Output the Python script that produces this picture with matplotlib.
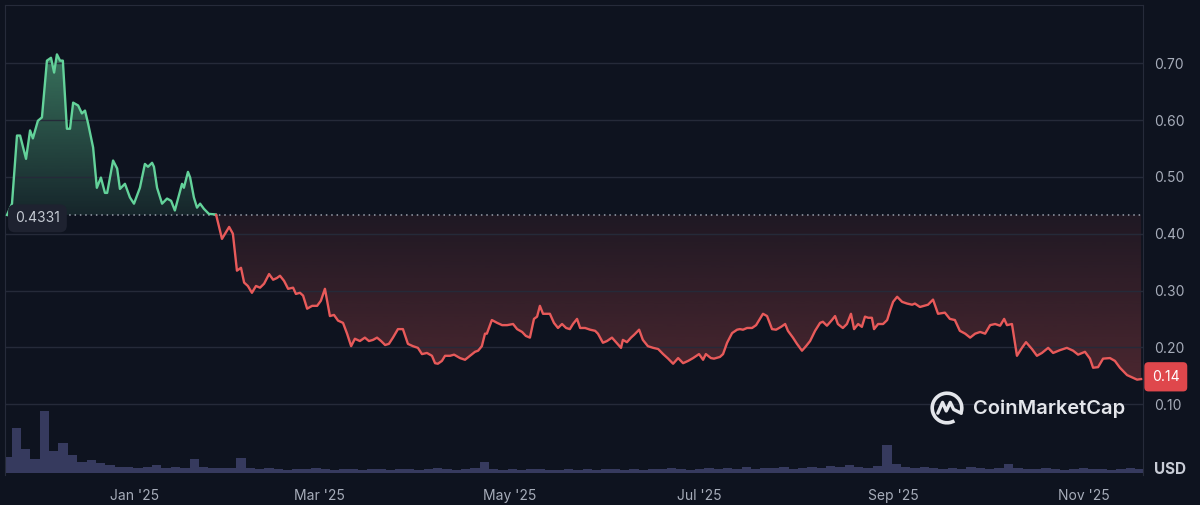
import numpy as np
import pandas as pd
import matplotlib
matplotlib.use("Agg")
import matplotlib.pyplot as plt
import matplotlib.dates as mdates
import matplotlib.transforms as mtrans
from matplotlib.colors import to_rgb
from matplotlib.path import Path
from matplotlib.patches import Arc

# prezzo (USD), giorni dal 21 nov 2024
start = pd.Timestamp("2024-11-21")
base = 0.4331

green_days = [0.0, 1.6, 3.2, 4.2, 6.1, 7.4, 8.3, 9.9, 11.2, 12.8,
              14.1, 15.1, 16.0, 17.0, 17.9, 19.2, 20.2, 21.2, 22.8, 24.0,
              25.0, 26.0, 27.6, 28.8, 30.1, 31.4, 32.1, 34.0, 35.3, 36.2,
              37.8, 39.4, 40.7, 42.6, 44.2, 45.2, 46.5, 47.1, 48.1, 49.7,
              51.3, 52.6, 53.8, 56.1, 56.7, 58.0, 58.7, 59.9, 60.9, 61.9,
              63.1, 64.7, 67.0]
green_price = [0.4331, 0.453, 0.573, 0.573, 0.532, 0.582, 0.568, 0.599, 0.605, 0.705,
               0.710, 0.684, 0.716, 0.705, 0.705, 0.585, 0.585, 0.631, 0.626, 0.612,
               0.617, 0.594, 0.552, 0.481, 0.499, 0.472, 0.472, 0.529, 0.515, 0.479,
               0.488, 0.464, 0.453, 0.481, 0.523, 0.518, 0.525, 0.518, 0.481, 0.453,
               0.462, 0.458, 0.441, 0.488, 0.481, 0.509, 0.499, 0.464, 0.446, 0.453,
               0.444, 0.435, 0.434]

red_days = [68.9, 71.2, 72.4, 73.7, 75.0, 76.0, 77.2, 78.5, 79.8, 81.1,
            82.4, 84.0, 85.3, 86.5, 87.5, 88.8, 90.1, 91.7, 92.6, 93.9,
            94.9, 96.2, 97.8, 99.4, 100.6, 101.9, 103.5, 104.8, 106.1, 107.7,
            109.0, 110.3, 111.5, 113.1, 114.7, 116.0, 117.3, 118.6, 119.9, 121.2,
            122.4, 123.7, 125.3, 126.9, 128.5, 130.1, 131.7, 133.0, 134.6, 136.2,
            137.2, 138.1, 139.4, 140.4, 142.0, 143.3, 145.2, 146.8, 148.4, 150.0,
            151.0, 152.2, 153.2, 153.8, 155.4, 157.1, 158.7, 160.3, 162.2, 163.5,
            165.1, 166.3, 167.6, 168.9, 169.9, 170.8, 171.8, 172.8, 174.0, 175.3,
            176.6, 177.9, 179.2, 180.4, 181.4, 182.7, 183.7, 185.3, 186.9, 188.5,
            189.4, 191.0, 192.3, 193.9, 195.2, 196.8, 197.4, 198.7, 200.0, 201.0,
            202.6, 203.8, 205.4, 207.1, 208.7, 210.3, 211.9, 213.5, 215.1, 216.7,
            218.3, 219.9, 221.8, 223.1, 224.0, 225.6, 226.6, 228.5, 229.5, 230.8,
            232.4, 234.0, 234.9, 235.9, 237.2, 238.8, 240.1, 241.3, 242.3, 243.6,
            245.2, 246.5, 248.1, 249.4, 250.3, 251.9, 253.2, 254.8, 256.1, 257.4,
            259.0, 260.6, 261.5, 262.8, 264.4, 265.4, 266.3, 267.9, 269.2, 270.5,
            271.5, 272.8, 274.0, 275.0, 276.0, 277.2, 277.9, 279.2, 280.8, 282.1,
            283.0, 284.0, 285.3, 286.9, 288.5, 290.1, 291.0, 292.6, 295.2, 296.8,
            298.4, 300.6, 302.2, 303.8, 305.4, 307.1, 308.7, 310.3, 311.9, 313.5,
            315.1, 316.7, 318.3, 319.6, 320.5, 322.1, 323.7, 325.3, 326.6, 328.5,
            330.1, 331.7, 333.7, 335.3, 337.5, 339.7, 341.7, 343.3, 345.5, 347.1,
            348.1, 349.7, 351.3, 353.5, 355.1, 356.7, 359.0, 360.6, 362.2, 363.5]
red_price = [0.391, 0.412, 0.400, 0.335, 0.340, 0.314, 0.308, 0.296, 0.308, 0.305,
             0.312, 0.329, 0.319, 0.322, 0.326, 0.317, 0.303, 0.305, 0.294, 0.296,
             0.291, 0.268, 0.273, 0.273, 0.282, 0.303, 0.255, 0.257, 0.247, 0.243,
             0.224, 0.202, 0.215, 0.211, 0.217, 0.211, 0.213, 0.217, 0.211, 0.204,
             0.206, 0.217, 0.232, 0.232, 0.206, 0.202, 0.199, 0.188, 0.190, 0.185,
             0.172, 0.171, 0.176, 0.185, 0.185, 0.187, 0.181, 0.178, 0.185, 0.192,
             0.194, 0.202, 0.224, 0.224, 0.248, 0.243, 0.239, 0.239, 0.241, 0.232,
             0.227, 0.220, 0.217, 0.250, 0.254, 0.273, 0.259, 0.259, 0.259, 0.243,
             0.234, 0.241, 0.234, 0.232, 0.241, 0.250, 0.234, 0.234, 0.231, 0.229,
             0.224, 0.208, 0.211, 0.217, 0.209, 0.199, 0.213, 0.209, 0.217, 0.222,
             0.231, 0.213, 0.202, 0.199, 0.197, 0.188, 0.180, 0.171, 0.181, 0.172,
             0.176, 0.181, 0.188, 0.178, 0.188, 0.181, 0.180, 0.183, 0.188, 0.208,
             0.225, 0.231, 0.232, 0.231, 0.234, 0.234, 0.239, 0.250, 0.259, 0.255,
             0.232, 0.231, 0.236, 0.241, 0.229, 0.217, 0.206, 0.194, 0.202, 0.211,
             0.229, 0.243, 0.245, 0.238, 0.248, 0.255, 0.241, 0.234, 0.241, 0.259,
             0.232, 0.241, 0.236, 0.254, 0.252, 0.252, 0.232, 0.241, 0.241, 0.248,
             0.264, 0.280, 0.289, 0.280, 0.277, 0.275, 0.277, 0.271, 0.275, 0.284,
             0.259, 0.261, 0.250, 0.248, 0.229, 0.224, 0.217, 0.224, 0.227, 0.224,
             0.239, 0.241, 0.238, 0.250, 0.239, 0.241, 0.185, 0.199, 0.209, 0.197,
             0.185, 0.190, 0.199, 0.190, 0.195, 0.199, 0.194, 0.187, 0.192, 0.180,
             0.164, 0.165, 0.180, 0.181, 0.176, 0.164, 0.151, 0.147, 0.143, 0.144]

# volume (unita' arbitrarie), un valore ogni 3 giorni
vol_step = 3
volume = [16, 45, 24, 14, 62, 22, 30, 18, 11, 13, 10, 8, 6, 6, 5, 6, 8, 5, 6, 5,
          14, 6, 5, 5, 5, 15, 5,
          4, 5, 4, 3, 4, 4, 5, 4, 3, 4, 4, 3, 4, 4, 3, 4, 4, 3, 4, 5, 4, 3, 4, 5,
          11, 4, 3, 4,
          3, 4, 4, 3, 3, 4, 3, 4, 3, 4, 4, 3, 4, 3, 4, 4, 5, 4, 3, 4, 5, 4, 5, 4,
          6, 4, 5, 5, 6, 4, 5, 6, 5, 7, 6, 8,
          6, 5, 7, 28, 9, 6, 5, 6, 5, 4, 5, 4, 6, 5, 4, 5, 9, 5, 4, 4, 5, 4, 3, 4,
          5, 4, 4, 3, 4, 5, 4]

BG = "#0e131f"
GRID = "#252a39"
TXT = "#a6acb9"
GREEN = "#63d29a"
RED = "#e85a5a"

plt.rcParams["font.family"] = ["Inter", "DejaVu Sans"]

d = np.array(green_days + red_days)
p = np.array(green_price + red_price)

# punti di attraversamento della linea base
xs, ys = [d[0]], [p[0]]
for i in range(1, len(d)):
    if (p[i-1] - base) * (p[i] - base) < 0:
        t = (base - p[i-1]) / (p[i] - p[i-1])
        xs.append(d[i-1] + t * (d[i] - d[i-1])); ys.append(base)
    xs.append(d[i]); ys.append(p[i])
t0 = mdates.date2num(start)
x = t0 + np.array(xs)
y = np.array(ys)

fig = plt.figure(figsize=(12, 5.05), dpi=100, facecolor=BG)
rect = [5/1200, 30/505, 1138/1200, 470/505]

axv = fig.add_axes(rect, zorder=0)
axv.set_facecolor(BG)
vd = t0 + np.arange(len(volume)) * vol_step
axv.bar(vd, volume, width=vol_step, color="#363a5e", linewidth=0)
axv.set_ylim(-2, 468)
axv.set_xlim(t0 - 0.64, t0 + 364.1)
axv.axis("off")

ax = fig.add_axes(rect, zorder=1)
ax.patch.set_alpha(0)
ylo, yhi = -0.025, 0.803


def grad_fill(mask, color, y0, y1, a0, a1):
    coll = ax.fill_between(x, y, base, where=mask, facecolor="none", linewidth=0)
    path = Path.make_compound_path(*coll.get_paths())
    img = np.zeros((256, 1, 4))
    img[..., :3] = to_rgb(color)
    img[..., 3] = np.linspace(a0, a1, 256)[:, None]
    im = ax.imshow(img, extent=[x.min(), x.max(), y0, y1], origin="lower",
                   aspect="auto", zorder=1, interpolation="bilinear")
    im.set_clip_path(path, transform=ax.transData)


grad_fill(y >= base, GREEN, base, 0.72, 0.10, 0.50)
grad_fill(y <= base, RED, 0.14, base, 0.28, 0.08)

ax.plot(x, np.where(y >= base, y, np.nan), color=GREEN, lw=1.7, zorder=3,
        solid_joinstyle="round")
ax.plot(x, np.where(y <= base, y, np.nan), color=RED, lw=1.7, zorder=3,
        solid_joinstyle="round")
ax.axhline(base, color="#9aa0ad", lw=1.1, ls=(0, (1, 2.5)), zorder=2)

ax.set_xlim(t0 - 0.64, t0 + 364.1)
ax.set_ylim(ylo, yhi)

ax.yaxis.tick_right()
ax.set_yticks([0.1, 0.2, 0.3, 0.4, 0.5, 0.6, 0.7])
ax.set_yticklabels([f"{v:.2f}" for v in [0.1, 0.2, 0.3, 0.4, 0.5, 0.6, 0.7]])
ax.tick_params(axis="y", length=0, pad=8, labelcolor=TXT, labelsize=10)
ax.grid(axis="y", color=GRID, lw=1, zorder=0)
ax.xaxis.set_major_locator(mdates.MonthLocator(bymonth=[1, 3, 5, 7, 9, 11]))
ax.xaxis.set_major_formatter(mdates.DateFormatter("%b '%y"))
ax.tick_params(axis="x", length=0, pad=10, labelcolor=TXT, labelsize=10)
for s in ["top", "left", "right"]:
    ax.spines[s].set_color("#262b3a")
ax.spines["bottom"].set_visible(False)

# etichette prezzo
tr = mtrans.blended_transform_factory(ax.transAxes, ax.transData)
ax.text(0.0088, base - 0.006, "0.4331", transform=tr, ha="left", va="center",
        color="#c5cad3", fontsize=10, zorder=5,
        bbox=dict(boxstyle="round,pad=0.5,rounding_size=0.5", fc="#1e2230", ec="none"))
ax.text(1.0079, p[-1] + 0.004, f"{p[-1]:.2f}", transform=tr, ha="left", va="center",
        color="white", fontsize=10, zorder=5, clip_on=False,
        bbox=dict(boxstyle="round,pad=0.55,rounding_size=0.3", fc="#df474c", ec="none"))

fig.text(1170/1200, 1 - 469/505, "USD", ha="center", va="center",
         fontweight="bold", color="#c8ccd6", fontsize=11)

# watermark
fig.text(973/1200, 1 - 409/505, "CoinMarketCap", ha="left", va="center",
         fontweight="semibold", color="#e4e6eb", fontsize=14.5)
axl = fig.add_axes([930/1200, 1 - 425/505, 34/1200, 34/505], zorder=2)
axl.set_xlim(-1.15, 1.15); axl.set_ylim(-1.15, 1.15)
axl.set_aspect("equal"); axl.axis("off")
axl.add_patch(Arc((0, 0), 2, 2, theta1=-25, theta2=300, color="#e4e6eb", lw=2.6))
axl.plot([-0.62, -0.3, -0.05, 0.22, 0.45, 0.95], [-0.35, 0.38, -0.2, 0.38, -0.1, -0.35],
         color="#e4e6eb", lw=2.4, solid_joinstyle="round", solid_capstyle="round")

plt.savefig("out.png", dpi=100, facecolor=BG)
